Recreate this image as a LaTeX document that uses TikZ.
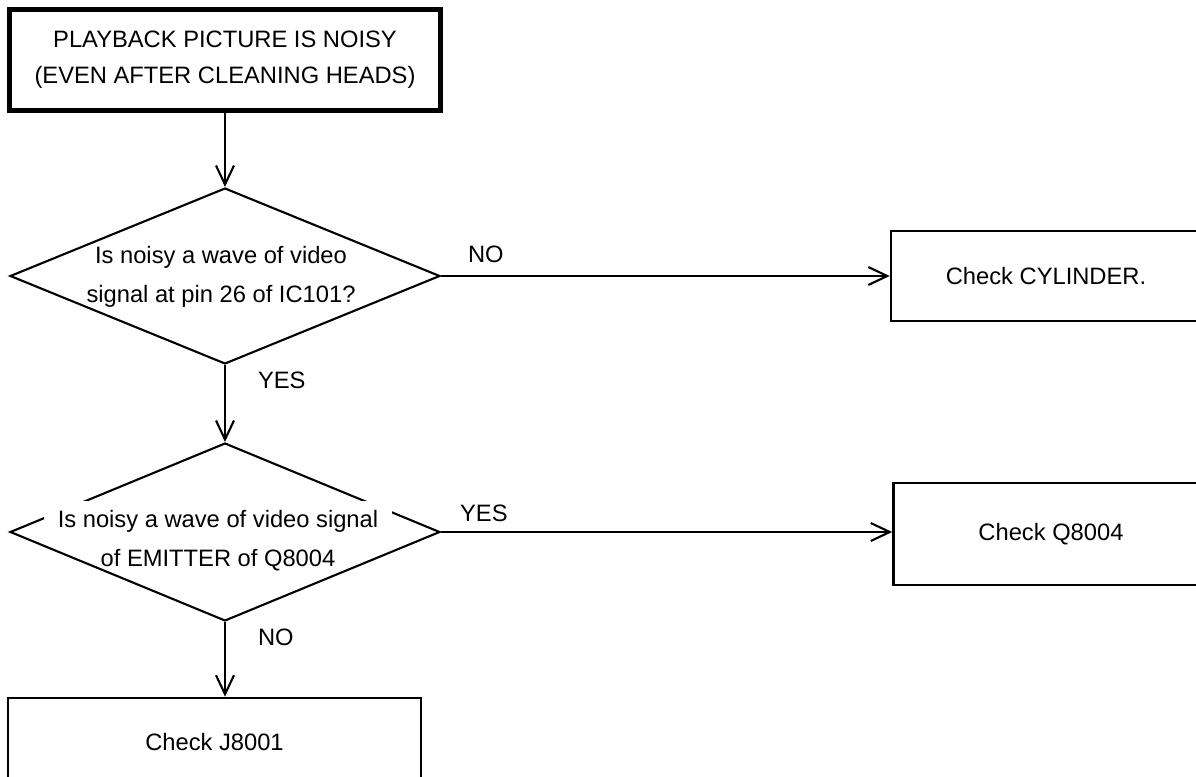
\documentclass[tikz,border=0pt]{standalone}
\usepackage{fontspec}
\setmainfont{Liberation Sans}
\usetikzlibrary{positioning,arrows.meta,shapes.geometric}
\tikzset{
  % --- boxes -----------------------------------------------------------
  base/.style    ={draw, line width=1.5pt, align=center, inner sep=0pt,
                   font=\fontsize{13.5}{20.5}\selectfont, text=black},
  start/.style   ={base, line width=2.8pt},                 % problem statement
  action/.style  ={base},                                   % check this part
  decision/.style={diamond, draw, line width=1.2pt, inner sep=0pt},
  qtext/.style   ={align=center, inner sep=0pt,
                   font=\fontsize{13.5}{22}\selectfont},
  % --- arrows / labels ------------------------------------------------
  arrow/.style   ={-{Straight Barb[length=3.8mm, width=3.6mm]}, line width=1.2pt},
  lab/.style     ={font=\fontsize{13.5}{16}\selectfont, inner sep=0pt},
}

\begin{document}
\begin{tikzpicture}[x=0.02cm, y=-0.02cm]
  \useasboundingbox (0,0) rectangle (1196,777);
  \clip (0,0) rectangle (1196,777);

  % ============================ start ============================
  \node[start, minimum width=8.62cm, minimum height=2.03cm] (noisy) at (225,60)
    {PLAYBACK PICTURE IS NOISY\\(EVEN AFTER CLEANING HEADS)};

  % ============================ first question ============================
  \node[decision, minimum width=8.6cm, minimum height=3.52cm] (ic) at (225,276) {};
  \node[qtext] (ictxt) at (221,277)
    {Is noisy a wave of video\\signal at pin 26 of IC101?};
  \node[action, minimum width=6.2cm, minimum height=1.8cm] (cyl) at (1046,276)
    {Check CYLINDER.};

  % ============================ second question ============================
  \node[decision, minimum width=8.6cm, minimum height=3.56cm] (em) at (225,532) {};
  \node[qtext] (emtxt) at (218,536)
    {\setlength{\fboxsep}{5pt}\colorbox{white}{\hspace{3pt}Is noisy a wave of video signal\hspace{3pt}}\\of EMITTER of Q8004};
  \node[action, minimum width=6.3cm, minimum height=2.04cm] (qchk) at (1051,534)
    {Check Q8004};

  % ============================ last check ============================
  \node[action, minimum width=8.26cm, minimum height=1.76cm] (jack) at (214.5,742)
    {Check J8001};

  % ============================ connectors ============================
  \draw[arrow] (noisy.south) -- (ic.north);
  \draw[arrow] (ic.east) -- node[lab, above, pos=0.1, yshift=7pt]{NO} (ic.east -| cyl.west);
  \draw[arrow] (ic.south) -- node[lab, anchor=west, pos=0.2, xshift=0.64cm]{YES} (em.north);
  \draw[arrow] (em.east) -- node[lab, above, pos=0.095, yshift=5pt]{YES} (em.east -| qchk.west);
  \draw[arrow] (em.south) -- node[lab, anchor=west, pos=0.21, xshift=0.64cm]{NO} (em.south |- jack.north);

\end{tikzpicture}
\end{document}
